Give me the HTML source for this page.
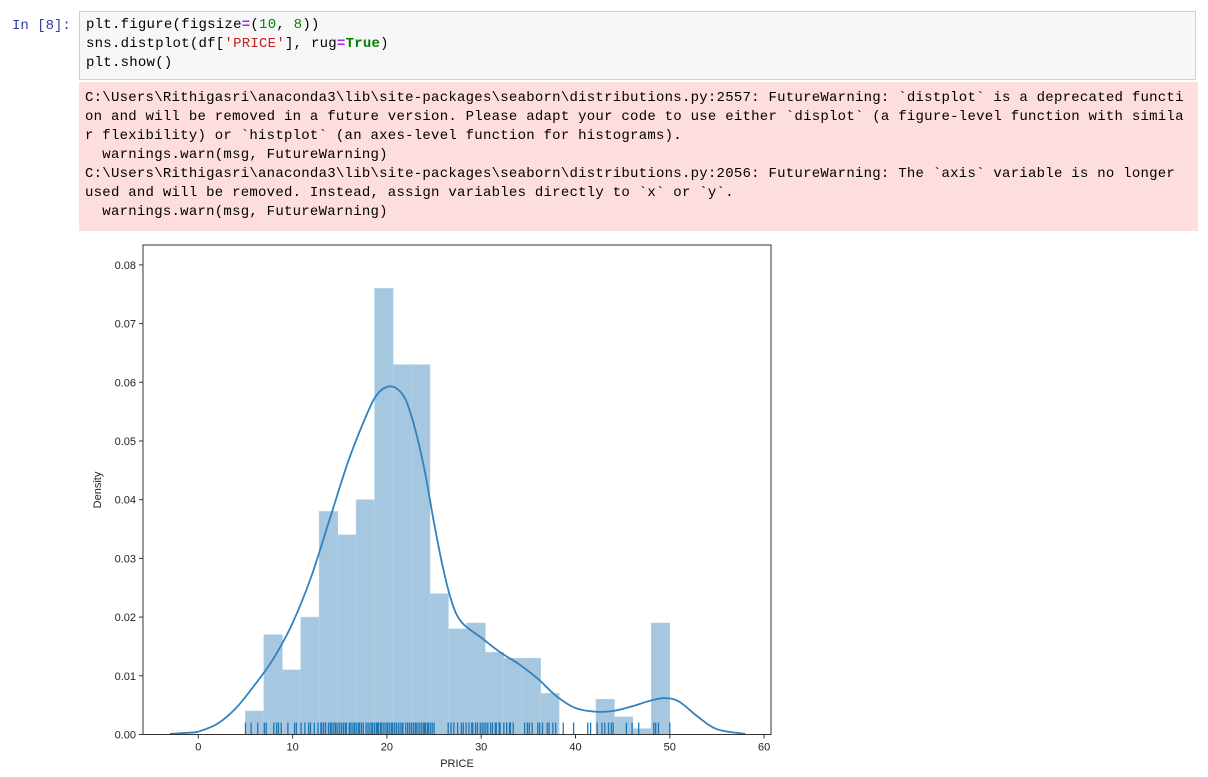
<!DOCTYPE html>
<html><head><meta charset="utf-8">
<style>
body{margin:0;background:#fff;width:1208px;height:777px;overflow:hidden;position:relative;font-family:"Liberation Mono",monospace;}
.prompt{position:absolute;left:12px;top:18px;color:#303f9f;font-size:14px;}
.code{position:absolute;left:79px;top:11px;width:1117px;height:69px;background:#f7f7f7;border:1px solid #cfcfcf;box-sizing:border-box;padding:4px 6px;font-size:14px;letter-spacing:0.25px;line-height:19px;color:#000;white-space:pre;}
.warn{position:absolute;left:79px;top:82px;width:1119px;height:149px;background:#fddddd;box-sizing:border-box;padding:7px 6px;font-size:14px;letter-spacing:0.25px;line-height:19px;color:#000;white-space:pre;}
.g{color:#008000;font-weight:bold}.s{color:#ba2121}.n{color:#080}.o{color:#aa22ff;font-weight:bold}
svg{position:absolute;left:0;top:0}
</style></head><body>
<div class="prompt">In [8]:</div>
<div class="code">plt.figure(figsize<span class="o">=</span>(<span class="n">10</span>, <span class="n">8</span>))
sns.distplot(df[<span class="s">'PRICE'</span>], rug<span class="o">=</span><span class="g">True</span>)
plt.show()</div>
<div class="warn">C:\Users\Rithigasri\anaconda3\lib\site-packages\seaborn\distributions.py:2557: FutureWarning: `distplot` is a deprecated functi
on and will be removed in a future version. Please adapt your code to use either `displot` (a figure-level function with simila
r flexibility) or `histplot` (an axes-level function for histograms).
  warnings.warn(msg, FutureWarning)
C:\Users\Rithigasri\anaconda3\lib\site-packages\seaborn\distributions.py:2056: FutureWarning: The `axis` variable is no longer
used and will be removed. Instead, assign variables directly to `x` or `y`.
  warnings.warn(msg, FutureWarning)</div>
<svg id="chart" width="1208" height="777"></svg>
<script>
const histHeights=[0.004,0.017,0.011,0.020,0.038,0.034,0.040,0.076,0.063,0.063,0.024,0.018,0.019,0.014,0.013,0.013,0.007,0,0,0.006,0.003,0.001,0.019];
const binStart=5, binEnd=50;
const kdeX=[-3,-1,0,2,4,6,8,10,12,14,16,18,19,20,21,22,23,24,25,26,27,28,30,32,34,36,38,40,42,44,46,48,49.5,51,53,55,58];
const kdeY=[0.0001,0.0003,0.0005,0.0018,0.0045,0.0085,0.013,0.019,0.027,0.037,0.047,0.055,0.058,0.0592,0.059,0.057,0.052,0.045,0.036,0.028,0.022,0.019,0.0165,0.014,0.012,0.0095,0.0065,0.0045,0.0039,0.004,0.0048,0.0058,0.0062,0.0056,0.003,0.0009,0.0001];
const rug=[5,5.6,6.3,7,7.2,8,8.3,8.5,8.8,9.5,10.2,10.4,10.9,11.3,11.7,11.9,12.3,12.7,13,13.1,13.3,13.5,13.8,14,14.1,14.3,14.5,14.6,14.8,15,15.2,15.4,15.6,15.7,16,16.1,16.3,16.5,16.6,16.8,17,17.1,17.3,17.5,17.8,18,18.2,18.4,18.5,18.7,18.9,19,19.1,19.3,19.4,19.6,19.8,20,20.1,20.3,20.5,20.6,20.8,21,21.2,21.4,21.6,21.7,22,22.2,22.4,22.6,22.8,23,23.1,23.3,23.5,23.7,23.9,24,24.1,24.3,24.4,24.6,24.8,25,26.5,26.8,27.1,27.5,27.9,28.1,28.4,28.7,29,29.1,29.4,29.6,29.9,30.1,30.3,30.5,30.7,31,31.2,31.5,31.6,31.9,32,32.4,32.7,33,33.1,33.4,34.6,34.9,35.1,35.4,36,36.2,36.5,37,37.2,37.6,37.9,38.7,39.8,41.3,41.6,42.3,42.8,43.1,43.5,43.8,44,45.4,46,46.7,48.3,48.5,48.8,50];
const xTicks=[0,10,20,30,40,50,60];
const yTicks=[0,0.01,0.02,0.03,0.04,0.05,0.06,0.07,0.08];
const yTickLabels=["0.00","0.01","0.02","0.03","0.04","0.05","0.06","0.07","0.08"];
const NS='http://www.w3.org/2000/svg';
const svg=document.getElementById('chart');
const L=143,R=771,T=245,B=734.5;
const xs=v=>198.3+v*9.43;
const ys=v=>734.5-v*5870;
function mk(t,a){const e=document.createElementNS(NS,t);for(const k in a)e.setAttribute(k,a[k]);svg.appendChild(e);return e;}
const bw=(binEnd-binStart)/histHeights.length;
histHeights.forEach((h,i)=>{
 if(h<=0)return;
 const x0=xs(binStart+i*bw),x1=xs(binStart+(i+1)*bw);
 const r=mk('rect',{x:x0,y:ys(h),width:x1-x0,height:ys(0)-ys(h),fill:'#a6c7e0',stroke:'#b4d0e6','stroke-width':0.6});
 
 
});
rug.forEach((v,i)=>{
 const l=mk('line',{x1:xs(v),x2:xs(v),y1:ys(0),y2:ys(0)-12,stroke:'#1f77b4','stroke-width':1.3});
 
 
});
const P=kdeX.map((x,i)=>[xs(x),ys(kdeY[i])]);
let d='M'+P[0][0].toFixed(1)+','+P[0][1].toFixed(1);
for(let i=0;i<P.length-1;i++){
 const p0=P[Math.max(0,i-1)],p1=P[i],p2=P[i+1],p3=P[Math.min(P.length-1,i+2)];
 const c1=[p1[0]+(p2[0]-p0[0])/6,p1[1]+(p2[1]-p0[1])/6];
 const c2=[p2[0]-(p3[0]-p1[0])/6,p2[1]-(p3[1]-p1[1])/6];
 d+='C'+c1[0].toFixed(1)+','+c1[1].toFixed(1)+' '+c2[0].toFixed(1)+','+c2[1].toFixed(1)+' '+p2[0].toFixed(1)+','+p2[1].toFixed(1);
}
const k=mk('path',{d:d,fill:'none',stroke:'#3182bd','stroke-width':1.8,'stroke-linejoin':'round'});


const f=mk('rect',{x:L,y:T,width:R-L,height:B-T,fill:'none',stroke:'#333','stroke-width':1});


xTicks.forEach(v=>{
 mk('line',{x1:xs(v),x2:xs(v),y1:B,y2:B+4,stroke:'#333'});
 const t=mk('text',{x:xs(v),y:B+16,'text-anchor':'middle','font-size':11,fill:'#222','font-family':'Liberation Sans, sans-serif'});
 t.textContent=v;
 
 
});
yTicks.forEach((v,i)=>{
 mk('line',{x1:L-4,x2:L,y1:ys(v),y2:ys(v),stroke:'#333'});
 const t=mk('text',{x:L-7,y:ys(v)+4,'text-anchor':'end','font-size':11,fill:'#222','font-family':'Liberation Sans, sans-serif'});
 t.textContent=yTickLabels[i];
 
 
});
const xt=mk('text',{x:(L+R)/2,y:767,'text-anchor':'middle','font-size':11,fill:'#222','font-family':'Liberation Sans, sans-serif'});
xt.textContent='PRICE';


const yt=mk('text',{x:101,y:490,'text-anchor':'middle','font-size':11,fill:'#222','font-family':'Liberation Sans, sans-serif',transform:'rotate(-90 101 490)'});
yt.textContent='Density';


</script>
</body></html>
